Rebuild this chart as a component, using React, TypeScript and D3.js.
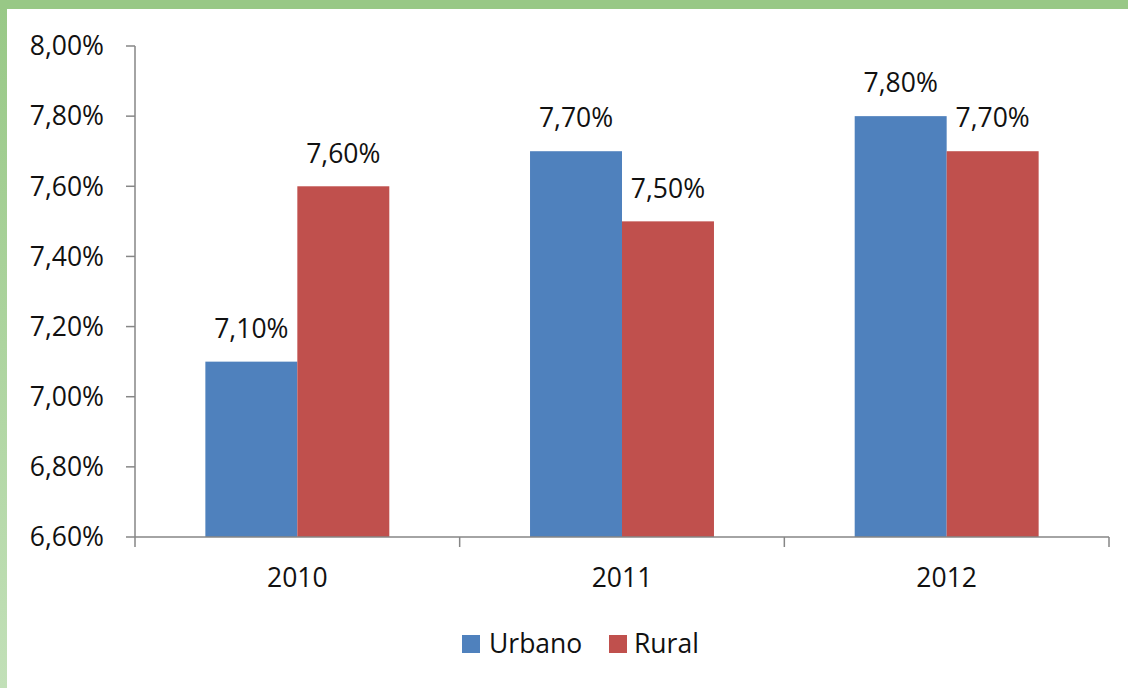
import React from "react";
import * as d3 from "d3";

const years = ["2010", "2011", "2012"];
const seriesNames = ["Urbano", "Rural"];
const urbano = [7.1, 7.7, 7.8];
const rural = [7.6, 7.5, 7.7];
const yTicks = [6.6, 6.8, 7.0, 7.2, 7.4, 7.6, 7.8, 8.0];

const W = 1128;
const H = 688;
const FONT = "'Open Sans', 'Noto Sans', sans-serif";
const colors = ["#4f81bd", "#c0504d"];

const fmt = (v: number) => v.toFixed(2).replace(".", ",") + "%";

export default function App() {
  const left = 135, right = 1109, top = 46, bottom = 537;
  const y = d3.scaleLinear().domain([6.6, 8.0]).range([bottom, top]);
  const x = d3.scaleBand<string>().domain(years).range([left, right]).paddingInner(0).paddingOuter(0);
  const xs = d3.scaleBand<string>().domain(seriesNames).range([0, x.bandwidth()]).paddingInner(0).paddingOuter(0.765);
  const seriesVals = [urbano, rural];
  const fontSize = 26.5;

  return (
    <svg width={W} height={H} style={{ position: "fixed", left: 0, top: 0, display: "block", background: "#fff" }}>
      <defs>
        <linearGradient id="lg" x1="0" y1="0" x2="0" y2="1">
          <stop offset="0" stopColor="#98c886" />
          <stop offset="1" stopColor="#c2e0b8" />
        </linearGradient>
      </defs>
      <rect x={0} y={0} width={W} height={H} fill="#fff" />
      <rect x={0} y={0} width={7} height={H} fill="url(#lg)" />
      <rect x={0} y={0} width={W} height={9} fill="#98c886" />

      {/* y axis */}
      <line x1={left} x2={left} y1={top} y2={bottom} stroke="#868686" strokeWidth={1.5} />
      {yTicks.map((t) => (
        <g key={t}>
          <line x1={left - 9} x2={left} y1={y(t)} y2={y(t)} stroke="#868686" strokeWidth={1.5} />
          <text x={104} y={y(t)} dy="0.35em" textAnchor="end" fontFamily={FONT} fontSize={fontSize} fill="#111">
            {fmt(t)}
          </text>
        </g>
      ))}

      {/* bars */}
      {years.map((yr, i) =>
        seriesNames.map((s, j) => {
          const v = seriesVals[j][i];
          const bx = (x(yr) as number) + (xs(s) as number);
          return (
            <g key={yr + s}>
              <rect x={bx} y={y(v)} width={xs.bandwidth()} height={bottom - y(v)} fill={colors[j]} />
              <text x={bx + xs.bandwidth() / 2} y={y(v) - 33} dy="0.35em" textAnchor="middle" fontFamily={FONT} fontSize={fontSize} fill="#111">
                {fmt(v)}
              </text>
            </g>
          );
        })
      )}

      {/* x axis */}
      <line x1={left} x2={right} y1={bottom} y2={bottom} stroke="#868686" strokeWidth={1.5} />
      {[...years.map((yr) => x(yr) as number), right].map((px, k) => (
        <line key={k} x1={px} x2={px} y1={bottom} y2={bottom + 10} stroke="#868686" strokeWidth={1.5} />
      ))}
      {years.map((yr) => (
        <text key={yr} x={(x(yr) as number) + x.bandwidth() / 2} y={578} dy="0.35em" textAnchor="middle" fontFamily={FONT} fontSize={fontSize} fill="#111">
          {yr}
        </text>
      ))}

      {/* legend */}
      <rect x={462} y={635} width={18} height={18} fill={colors[0]} />
      <text x={489} y={644} dy="0.35em" fontFamily={FONT} fontSize={fontSize} fill="#111">{seriesNames[0]}</text>
      <rect x={609} y={635} width={18} height={18} fill={colors[1]} />
      <text x={634} y={644} dy="0.35em" fontFamily={FONT} fontSize={fontSize} fill="#111">{seriesNames[1]}</text>
    </svg>
  );
}
